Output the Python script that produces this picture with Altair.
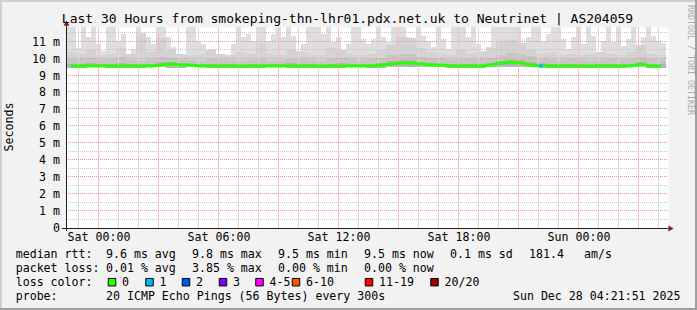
import altair as alt
import pandas as pd

# ---------------- data ----------------
T0 = -1.625        # left edge of plot, hours relative to Sat 00:00
T_END = 28.475     # right edge of plot (incl. 2px margin)
Y_MAX = 11.866

# upper edge of smoke (ms), 15-minute bins
SMOKE_TOP = [
    11.9, 11.9, 10.6, 11.9, 11.26, 11.9, 10.86, 10.47, 11.9, 11.9,
    11.06, 11.45, 10.27, 10.56, 11.9, 11.45, 11.26, 10.86, 11.9, 11.9,
    11.26, 10.66, 10.27, 10.17, 11.9, 11.9, 11.06, 10.86, 10.37, 10.56,
    10.17, 10.07, 10.17, 10.86, 11.9, 11.26, 11.45, 11.06, 11.9, 11.9,
    11.06, 11.45, 11.9, 11.26, 11.9, 11.35, 10.47, 10.86, 11.9, 11.9,
    11.9, 11.45, 11.9, 10.96, 11.26, 10.37, 10.86, 11.9, 11.9, 11.16,
    10.86, 11.16, 11.9, 11.26, 10.96, 11.9, 11.9, 11.9, 11.26, 10.86,
    11.9, 11.35, 11.06, 10.66, 11.9, 11.16, 10.56, 11.9, 11.9, 11.9,
    11.26, 11.9, 10.86, 10.47, 10.66, 11.9, 11.9, 11.9, 11.9, 11.9,
    11.9, 10.86, 11.26, 11.9, 11.9, 11.06, 11.45, 11.9, 11.9, 11.16,
    10.56, 11.26, 11.9, 10.86, 11.9, 11.35, 10.37, 11.06, 11.9, 10.96,
    11.9, 10.76, 11.16, 11.9, 10.66, 11.26, 11.9, 11.35, 11.06, 10.9,
]

# second smoke layer (30-minute bins)
SMOKE_UPPER = [
    10.4, 10.3, 10.5, 10.2, 10.3, 10.6, 10.3, 11.5, 10.4, 11.2,
    10.5, 10.3, 10.2, 10.3, 10.5, 10.3, 10.2, 10.4, 10.3, 10.9,
    10.3, 10.2, 10.5, 10.4, 10.3, 10.2, 10.6, 10.5, 10.3, 10.2,
    10.3, 10.5, 10.8, 11.3, 11.2, 10.6, 10.4, 10.3, 10.2, 10.5,
    10.3, 10.4, 10.6, 11.0, 11.1, 10.9, 10.5, 10.3, 10.4, 10.2,
    10.3, 10.2, 10.3, 10.4, 10.3, 10.2, 10.4, 10.8, 10.3, 10.2,
]

# darker smoke (30-minute bins)
SMOKE_MID = [
    10.0, 9.95, 10.05, 9.9, 9.95, 10.1, 9.9, 9.85, 9.95, 10.1,
    10.05, 9.95, 9.9, 9.85, 10.0, 9.95, 9.9, 9.85, 9.9, 9.95,
    9.85, 9.9, 10.0, 9.95, 9.9, 9.85, 10.0, 10.05, 9.95, 9.9,
    9.95, 10.05, 10.2, 10.3, 10.25, 10.1, 10.0, 9.95, 9.9, 10.0,
    9.95, 10.0, 10.05, 10.2, 10.35, 10.3, 10.15, 10.0, 9.95, 9.9,
    9.95, 9.9, 9.85, 9.9, 9.95, 9.9, 9.95, 10.1, 9.95, 9.9,
]

# darkest smoke near the median (30-minute bins)
SMOKE_INNER = [
    9.7, 9.68, 9.72, 9.7, 9.66, 9.74, 9.68, 9.66, 9.7, 9.8,
    9.78, 9.72, 9.7, 9.67, 9.7, 9.68, 9.66, 9.65, 9.68, 9.7,
    9.66, 9.67, 9.72, 9.68, 9.66, 9.65, 9.7, 9.72, 9.68, 9.66,
    9.68, 9.74, 9.85, 9.92, 9.9, 9.82, 9.74, 9.7, 9.68, 9.7,
    9.68, 9.7, 9.74, 9.84, 9.93, 9.9, 9.8, 9.72, 9.7, 9.68,
    9.67, 9.66, 9.64, 9.67, 9.68, 9.66, 9.68, 9.78, 9.68, 9.66,
]

# lower edge of smoke (hourly)
SMOKE_LOW = [
    9.47, 9.48, 9.47, 9.46, 9.48, 9.47, 9.48, 9.47, 9.46, 9.47,
    9.48, 9.47, 9.47, 9.46, 9.48, 9.47, 9.5, 9.52, 9.48, 9.47,
    9.47, 9.5, 9.51, 9.48, 9.47, 9.46, 9.45, 9.47, 9.48, 9.47,
]

# median rtt (ms), 30-minute bins
MEDIAN = [
    9.57, 9.58, 9.56, 9.59, 9.57, 9.56, 9.57, 9.58, 9.58, 9.64,
    9.66, 9.62, 9.60, 9.58, 9.57, 9.58, 9.57, 9.56, 9.57, 9.58,
    9.57, 9.57, 9.58, 9.57, 9.56, 9.57, 9.58, 9.57, 9.58, 9.57,
    9.57, 9.60, 9.68, 9.76, 9.75, 9.70, 9.63, 9.60, 9.58, 9.57,
    9.58, 9.57, 9.60, 9.72, 9.78, 9.76, 9.64, 9.58, 9.58, 9.58,
    9.57, 9.56, 9.54, 9.57, 9.56, 9.57, 9.58, 9.67, 9.58, 9.57,
]
# lost pings per bin
LOSS = [0] * 47 + [1] + [0] * 12

Y_TICKS = [0, 1, 2, 3, 4, 5, 6, 7, 8, 9, 10, 11]
X_TICKS = [0, 6, 12, 18, 24]

TITLE = "Last 30 Hours from smokeping-thn-lhr01.pdx.net.uk to Neutrinet | AS204059"
ROW1 = ["median rtt:", "9.6 ms avg", "9.8 ms max", "9.5 ms min", "9.5 ms now",
        "0.1 ms sd", "181.4", "am/s"]
ROW2 = ["packet loss:", "0.01 % avg", "3.85 % max", "0.00 % min", "0.00 % now"]
ROW3 = ["loss color:"]
ROW4 = ["probe:", "20 ICMP Echo Pings (56 Bytes) every 300s"]
DATE_TEXT = "Sun Dec 28 04:21:51 2025"
LOSS_LABELS = ["0", "1", "2", "3", "4-5", "6-10", "11-19", "20/20"]
LOSS_COLORS = ["#26ff00", "#00b8ff", "#0059ff", "#7e00ff", "#ff00ff",
               "#ff5500", "#ff0000", "#a10000"]

# ---------------- layout (pixels) ----------------
PL, PT = 66, 27          # plot origin in the 697x310 canvas
W, H = 602, 201
MONO = "DejaVu Sans Mono"
FS = 11.6
PX_H = (T_END - T0) / W  # one pixel, in hours

ROW1_X = [15.7, 106, 192, 278, 364, 450, 529, 584]
ROW2_X = [15.7, 106, 192, 278, 364]
ROW3_X = [15.7]
ROW4_X = [15.7, 106]
ROW_BASE = [258.3, 272.3, 286.3, 300.3]
BOX_X = [108, 145.5, 182, 219, 255.5, 292, 365, 430.5]

GREY = "#c4c4c4"
RED = "#eb9595"
GREY_V = "#dadada"
RED_V = "#f3c0c0"

XS = alt.Scale(domain=[T0, T_END], nice=False, zero=False)
YS = alt.Scale(domain=[0, Y_MAX], nice=False, zero=False, round=True)

X_AXIS = alt.Axis(values=X_TICKS, grid=False, domain=False, ticks=False, tickSize=0,
                  labelPadding=3, labelFont=MONO, labelFontSize=FS, labelColor="#000000",
                  labelFlush=False, labelOverlap=False, title="",
                  labelExpr="(datum.value == 24 ? 'Sun ' : 'Sat ') + "
                            "(datum.value % 24 < 10 ? '0' : '') + (datum.value % 24) + ':00'")
Y_AXIS = alt.Axis(values=Y_TICKS, grid=False, domain=False, ticks=False, tickSize=0,
                  labelPadding=6.5, labelFont=MONO, labelFontSize=FS, labelColor="#000000",
                  labelFlush=False, labelOverlap=False, title="",
                  labelExpr="datum.value == 0 ? '0\u00a0\u00a0' : datum.value + ' m'")


def X(field):
    return alt.X(field, type="quantitative", scale=XS, axis=X_AXIS)


def Y(field):
    return alt.Y(field, type="quantitative", scale=YS, axis=Y_AXIS)


# ---------------- frames ----------------
n_top = len(SMOKE_TOP)
top_df = pd.DataFrame({
    "t": [T0 + 0.25 * i for i in range(n_top + 1)],
    "hi": SMOKE_TOP + [SMOKE_TOP[-1]],
    "lo": [SMOKE_LOW[min(i // 4, len(SMOKE_LOW) - 1)] for i in range(n_top + 1)],
})
n_mid = len(SMOKE_MID)
mid_df = pd.DataFrame({
    "t": [T0 + 0.5 * j for j in range(n_mid + 1)],
    "up": SMOKE_UPPER + [SMOKE_UPPER[-1]],
    "hi": SMOKE_MID + [SMOKE_MID[-1]],
    "hi2": SMOKE_INNER + [SMOKE_INNER[-1]],
    "lo": [SMOKE_LOW[min(j // 2, len(SMOKE_LOW) - 1)] for j in range(n_mid + 1)],
})
med_df = pd.DataFrame({
    "t": [T0 + 0.5 * j + 0.25 for j in range(len(MEDIAN))],
    "m": MEDIAN,
    "loss": LOSS,
    "col": [LOSS_COLORS[min(v, 7)] for v in LOSS],
})
loss_df = med_df[med_df["loss"] > 0]

# grid positions (hours / ms)
minor_h = [h for h in range(-1, 29) if h % 3 != 0]
major_h = [h for h in range(0, 29) if h % 3 == 0]
minor_v = [v + 0.5 for v in range(0, 12)]
major_v = [v for v in range(1, 12)]

layers = []

layers.append(alt.Chart(top_df).mark_area(interpolate="step-after", color="#dedede", clip=True)
              .encode(x=X("t"), y=Y("hi"), y2="lo:Q"))
layers.append(alt.Chart(mid_df).mark_area(interpolate="step-after", color="#d3d3d3", clip=True)
              .encode(x=X("t"), y=Y("up"), y2="lo:Q"))
layers.append(alt.Chart(mid_df).mark_area(interpolate="step-after", color="#c6c6c6", clip=True)
              .encode(x=X("t"), y=Y("hi"), y2="lo:Q"))
layers.append(alt.Chart(mid_df).mark_area(interpolate="step-after", color="#b3b3b3", clip=True)
              .encode(x=X("t"), y=Y("hi2"), y2="lo:Q"))

# vertical grid: 1-pixel-wide rects, one per hour
for vals, col in [(minor_h, GREY_V), (major_h, RED_V)]:
    vdf = pd.DataFrame({
        "ga": [h - PX_H / 2 for h in vals],
        "gb": [h + PX_H / 2 for h in vals],
        "g0": [0.0] * len(vals),
        "g1": [Y_MAX] * len(vals),
    })
    layers.append(alt.Chart(vdf).mark_rect(color=col, opacity=1)
                  .encode(x=X("ga"), x2="gb:Q", y=Y("g0"), y2="g1:Q"))
# horizontal grid
for vals, col in [(minor_v, GREY), (major_v, RED)]:
    layers.append(alt.Chart(pd.DataFrame({"gv": vals})).mark_rule(
        color=col, strokeWidth=1, strokeDash=[1, 1], yOffset=-0.5)
        .encode(y=Y("gv"), x=alt.value(0), x2=alt.value(W)))

layers.append(alt.Chart(med_df).mark_line(color="#26ff00", strokeWidth=3, clip=True)
              .encode(x=X("t"), y=Y("m")))
layers.append(alt.Chart(loss_df).mark_square(size=12, opacity=1)
              .encode(x=X("t"), y=Y("m"), color=alt.Color("col:N", scale=None)))

# axis lines + arrows
AXC = "#1f1f1f"
ARC = "#801f1f"
layers.append(alt.Chart().mark_rule(color=AXC, strokeWidth=1).encode(
    x=alt.value(-4), x2=alt.value(W), y=alt.value(H + 0.5)))
layers.append(alt.Chart().mark_rule(color=AXC, strokeWidth=1).encode(
    x=alt.value(0.5), y=alt.value(H + 3), y2=alt.value(-3)))
layers.append(alt.Chart().mark_point(shape="triangle-right", filled=True, size=36, color=ARC, opacity=1)
              .encode(x=alt.value(W + 3), y=alt.value(H + 0.5)))
layers.append(alt.Chart().mark_point(shape="triangle-up", filled=True, size=36, color=ARC, opacity=1)
              .encode(x=alt.value(0.5), y=alt.value(-3.8)))

# frame shading
layers.append(alt.Chart().mark_rule(color="#cfcfcf", strokeWidth=2).encode(
    x=alt.value(-PL + 1), y=alt.value(-PT), y2=alt.value(310 - PT)))
layers.append(alt.Chart().mark_rule(color="#cfcfcf", strokeWidth=2).encode(
    y=alt.value(-PT + 1), x=alt.value(-PL), x2=alt.value(697 - PL)))
layers.append(alt.Chart().mark_rule(color="#9e9e9e", strokeWidth=2).encode(
    x=alt.value(697 - PL - 1), y=alt.value(-PT), y2=alt.value(310 - PT)))
layers.append(alt.Chart().mark_rule(color="#9e9e9e", strokeWidth=2).encode(
    y=alt.value(310 - PT - 1), x=alt.value(-PL), x2=alt.value(697 - PL)))


def text_at(s, x, y, size=FS, color="#000000", align="left", baseline="alphabetic", angle=0):
    return alt.Chart().mark_text(text=s, font=MONO, fontSize=size, color=color,
                                 align=align, baseline=baseline, angle=angle).encode(
        x=alt.value(x - PL), y=alt.value(y - PT))


layers.append(text_at(TITLE, 347.5, 23.3, size=13, align="center"))
layers.append(text_at("Seconds", 10, 127, align="center", baseline="middle", angle=270))
layers.append(text_at("RRDTOOL / TOBI OETIKER", 690, 60, size=8.3, color="#ababab",
                      align="center", baseline="middle", angle=90))

for texts, xs, base in [(ROW1, ROW1_X, ROW_BASE[0]), (ROW2, ROW2_X, ROW_BASE[1]),
                        (ROW3, ROW3_X, ROW_BASE[2]), (ROW4, ROW4_X, ROW_BASE[3])]:
    for s, xx in zip(texts, xs):
        layers.append(text_at(s, xx, base))
for lab, bx, col in zip(LOSS_LABELS, BOX_X, LOSS_COLORS):
    layers.append(text_at(lab, bx + 14, ROW_BASE[2]))
    layers.append(alt.Chart().mark_square(size=56, opacity=1, color=col, stroke="#000000",
                                          strokeWidth=1)
                  .encode(x=alt.value(bx + 4 - PL), y=alt.value(282.2 - PT)))
layers.append(text_at(DATE_TEXT, 680.5, ROW_BASE[3], align="right"))

chart = alt.layer(*layers).properties(
    width=W, height=H,
    padding={"left": PL, "top": PT, "right": 697 - PL - W, "bottom": 310 - PT - H},
    autosize=alt.AutoSizeParams(type="none"),
    background="#f2f2f2",
).configure_view(stroke="transparent", fill="#ffffff")

chart.save("out.html", embed_options={"renderer": "svg", "actions": False})
